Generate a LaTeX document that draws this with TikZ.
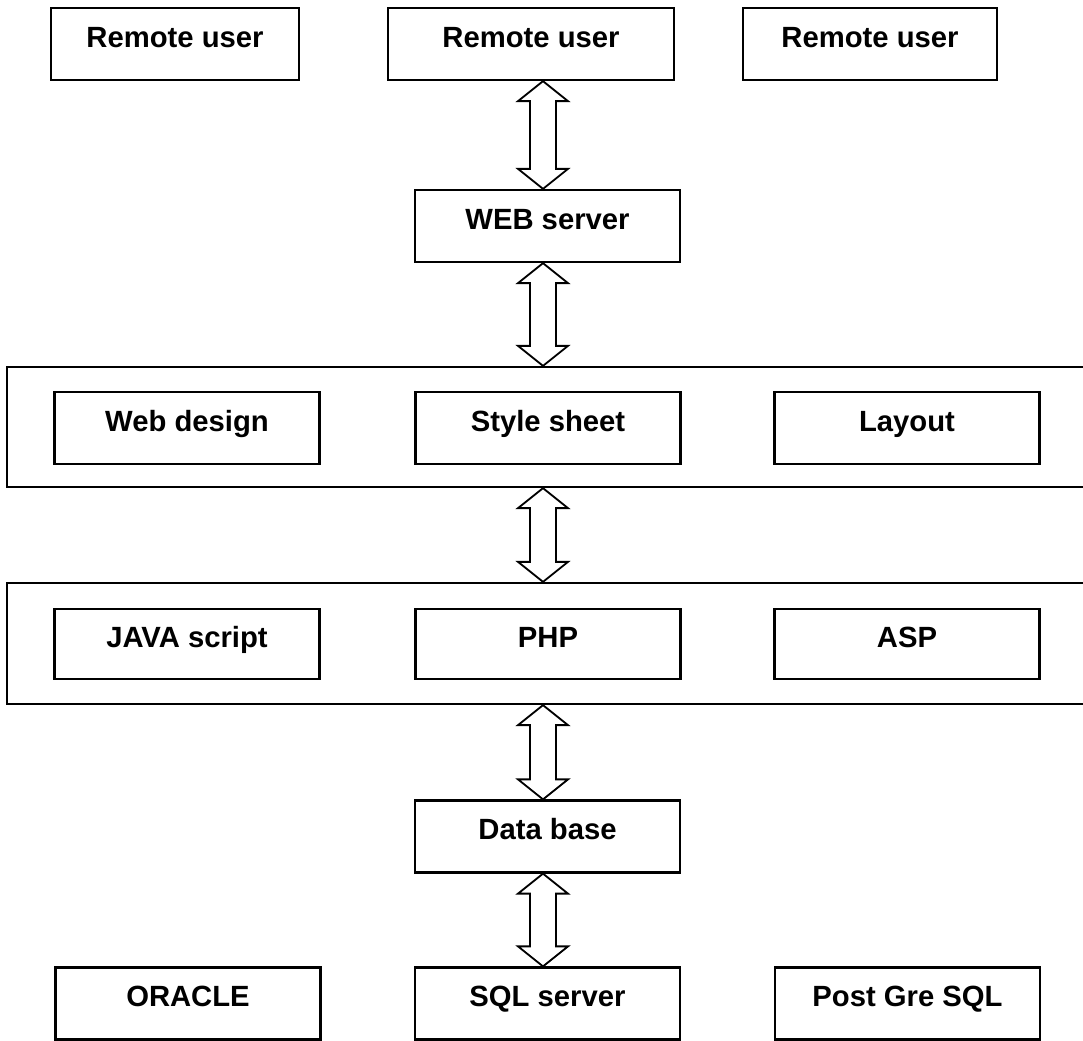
\documentclass[tikz,border=0pt]{standalone}
\usepackage{fontspec}
\setmainfont{Liberation Sans}
\usetikzlibrary{calc,positioning}
\tikzset{
  web-box/.style={draw=black, line width=1.6pt, fill=white, inner sep=0pt,
    minimum width=6.625cm, minimum height=1.8cm, text height=0.45cm, text depth=0.3cm,
    font=\bfseries\fontsize{20.8}{25}\selectfont},
  web-layer/.style={draw=black, line width=1.6pt, minimum width=26.95cm},
  web-link/.style={draw=black, line width=1.3pt, fill=white, line join=miter}
}
\begin{document}
\begin{tikzpicture}[x=0.025cm, y=-0.025cm]
  \useasboundingbox (0,0) rectangle (1083,1040);
  \coordinate (axis) at (543,0);
  % remote users
  \node[web-box, minimum width=6.2cm] (user-a) at (175,44) {Remote user};
  \node[web-box, minimum width=7.15cm] (user-b) at (531,44) {Remote user};
  \node[web-box, minimum width=6.35cm] (user-c) at (870,44) {Remote user};
  \node[web-box] (server) at (547.5,226) {WEB server};
  % presentation layer
  \node[web-layer, minimum height=3cm] (layer-a) at (546,427) {};
  \foreach \x/\n/\t in {187/design/Web design, 548/style/Style sheet, 907/layout/Layout} {
    \node[web-box] (\n) at (\x,428) {\t};
  }
  % scripting layer
  \node[web-layer, minimum height=3.025cm] (layer-b) at (546,643.5) {};
  \foreach \x/\n/\t in {187/java/JAVA script, 548/php/PHP, 907/asp/ASP} {
    \node[web-box, minimum height=1.75cm] (\n) at (\x,644) {\t};
  }
  \node[web-box] (db) at (547.5,836.5) {Data base};
  % database servers
  \foreach \x/\n/\t in {188/oracle/ORACLE, 547.5/sql/SQL server, 907.5/pgsql/Post Gre SQL} {
    \node[web-box] (\n) at (\x,1003.5) {\t};
  }
  % two-way arrows
  \foreach \a/\b in {user-b/server, server/layer-a, layer-a/layer-b, layer-b/db, db/sql} {
    \draw[web-link] (\a.south -| axis) -- ++(25,20) -- ++(-12,0)
      -- ($(\b.north -| axis)+(13,-20)$) -- ++(12,0) -- (\b.north -| axis)
      -- ++(-25,-20) -- ++(12,0) -- ($(\a.south -| axis)+(-13,20)$) -- ++(-12,0) -- cycle;
  }
\end{tikzpicture}
\end{document}
